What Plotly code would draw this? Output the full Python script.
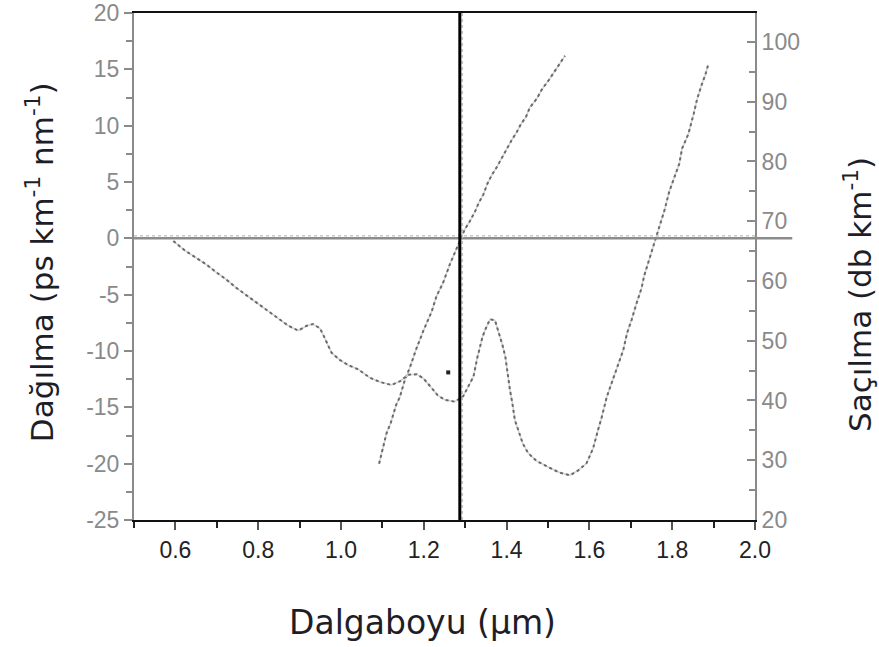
import plotly.graph_objects as go

# Attenuation curve (right axis, dB/km)
att_wavelength = [0.595, 0.623, 0.643, 0.674, 0.698, 0.722, 0.748, 0.774, 0.798, 0.827,
                  0.854, 0.873, 0.897, 0.917, 0.932, 0.949, 0.957, 0.967, 0.977, 0.997,
                  1.018, 1.042, 1.070, 1.094, 1.122, 1.142, 1.162, 1.183, 1.199, 1.219,
                  1.233, 1.251, 1.275, 1.295, 1.307, 1.320, 1.329, 1.336, 1.342, 1.350,
                  1.360, 1.372, 1.377, 1.384, 1.390, 1.397, 1.403, 1.408, 1.414, 1.420,
                  1.428, 1.439, 1.452, 1.472, 1.505, 1.529, 1.553, 1.573, 1.593, 1.609,
                  1.621, 1.629, 1.642, 1.654, 1.670, 1.682, 1.691, 1.702, 1.714, 1.726,
                  1.732, 1.742, 1.750, 1.762, 1.773, 1.782, 1.793, 1.807, 1.817, 1.824,
                  1.839, 1.852, 1.860, 1.871, 1.880, 1.887]
attenuation = [66.7, 65.1, 64.2, 62.8, 61.5, 60.3, 58.8, 57.5, 56.3, 54.9,
               53.6, 52.5, 51.7, 52.5, 52.8, 52.1, 51.0, 49.5, 48.0, 46.8,
               45.9, 45.2, 43.8, 43.1, 42.6, 43.2, 44.3, 44.4, 43.7, 42.1,
               40.9, 40.1, 39.8, 40.7, 42.3, 44.0, 47.1, 48.9, 50.7, 52.1,
               53.6, 53.4, 52.3, 50.8, 49.3, 47.3, 44.2, 41.8, 39.5, 36.7,
               35.1, 32.8, 31.2, 29.9, 28.7, 27.9, 27.5, 28.3, 29.5, 32.0,
               35.1, 37.0, 40.6, 42.9, 45.9, 48.5, 51.3, 53.5, 56.3, 58.8,
               60.8, 63.0, 64.9, 67.3, 69.9, 72.0, 75.0, 77.5, 79.6, 82.2,
               84.6, 88.0, 90.4, 92.8, 94.5, 96.2]

# Dispersion curve (left axis, ps km-1 nm-1)
disp_wavelength = [1.092, 1.104, 1.110, 1.120, 1.125, 1.133, 1.142, 1.149, 1.154, 1.167,
                   1.181, 1.199, 1.219, 1.231, 1.246, 1.263, 1.275, 1.291, 1.299, 1.311,
                   1.324, 1.332, 1.344, 1.353, 1.364, 1.376, 1.388, 1.400, 1.412, 1.424,
                   1.434, 1.447, 1.456, 1.473, 1.485, 1.503, 1.517, 1.533, 1.541]
dispersion = [-20.0, -18.2, -17.3, -16.4, -15.7, -14.8, -14.1, -13.1, -12.6, -11.4,
              -9.9, -8.2, -6.5, -5.1, -4.0, -2.3, -1.3, 0.1, 0.8, 1.5,
              2.4, 3.1, 3.9, 4.8, 5.6, 6.3, 7.1, 8.0, 8.7, 9.4,
              10.1, 10.8, 11.6, 12.4, 13.2, 14.1, 14.9, 15.8, 16.2]

stray_x = [1.259]
stray_y = [-11.9]

zero_dispersion_wavelength = 1.287

x_ticks = [0.6, 0.8, 1.0, 1.2, 1.4, 1.6, 1.8, 2.0]
x_ticktext = ["0.6", "0.8", "1.0", "1.2", "1.4", "1.6", "1.8", "2.0"]
left_ticks = [-25, -20, -15, -10, -5, 0, 5, 10, 15, 20]
left_ticktext = ["-25", "-20", "-15", "-10", "-5", "0", "5", "10", "15", "20"]
right_ticks = [20, 30, 40, 50, 60, 70, 80, 90, 100]
right_ticktext = ["20", "30", "40", "50", "60", "70", "80", "90", "100"]

fig = go.Figure()

# faint underlying lines
fig.add_trace(go.Scatter(x=att_wavelength, y=attenuation, yaxis="y2", mode="lines",
                         line=dict(color="#d4d4d4", width=1.5), hoverinfo="skip", showlegend=False))
fig.add_trace(go.Scatter(x=disp_wavelength, y=dispersion, yaxis="y", mode="lines",
                         line=dict(color="#d4d4d4", width=1.5), hoverinfo="skip", showlegend=False))
# dotted lines
fig.add_trace(go.Scatter(x=att_wavelength, y=attenuation, yaxis="y2", mode="lines",
                         line=dict(color="#6a6a6a", width=2, dash="dot"), showlegend=False))
fig.add_trace(go.Scatter(x=disp_wavelength, y=dispersion, yaxis="y", mode="lines",
                         line=dict(color="#6a6a6a", width=2, dash="dot"), showlegend=False))
fig.add_trace(go.Scatter(x=stray_x, y=stray_y, yaxis="y", mode="markers",
                         marker=dict(symbol="square", size=4, color="#222"), showlegend=False))

tick_font = dict(family="Liberation Sans, Arial, sans-serif", size=23, color="#8a8a8a")
title_font = dict(family="DejaVu Sans, sans-serif", size=31, color="#1e1e28")

fig.update_layout(
    width=879, height=647,
    margin=dict(l=134, r=124, t=13, b=127, autoexpand=False),
    paper_bgcolor="white", plot_bgcolor="white",
    showlegend=False,
    xaxis=dict(range=[0.5, 2.0], tickvals=x_ticks, ticktext=x_ticktext, automargin=False,
               ticks="outside", ticklen=8, tickwidth=1.5, tickcolor="#555",
               minor=dict(ticks="outside", dtick=0.1, tick0=0.5, ticklen=6, tickcolor="#222", tickwidth=1.5),
               showline=True, linecolor="#111", linewidth=2, mirror=True,
               showgrid=False, zeroline=False,
               tickfont=dict(family="Liberation Sans, Arial, sans-serif", size=23, color="#222")),
    yaxis=dict(range=[-25, 20], tickvals=left_ticks, ticktext=left_ticktext, automargin=False,
               ticks="outside", ticklen=8, tickwidth=1.5, tickcolor="#8a8a8a",
               minor=dict(ticks="outside", dtick=2.5, tick0=0, ticklen=6, tickcolor="#8a8a8a", tickwidth=1.5),
               showline=True, linecolor="#8a8a8a", linewidth=2,
               showgrid=False, zeroline=False, tickfont=tick_font),
    yaxis2=dict(range=[20, 104.85], tickvals=right_ticks, ticktext=right_ticktext,
                overlaying="y", side="right", automargin=False,
                ticks="inside", ticklen=8, tickwidth=1.5, tickcolor="#8a8a8a",
                minor=dict(ticks="inside", dtick=5, tick0=20, ticklen=6, tickcolor="#8a8a8a", tickwidth=1.5),
                showline=True, linecolor="#8a8a8a", linewidth=2,
                showgrid=False, zeroline=False, tickfont=tick_font),
    shapes=[
        dict(type="line", xref="paper", yref="y", x0=0, x1=1.06, y0=0, y1=0,
             line=dict(color="#8c8c8c", width=2.5)),
        dict(type="line", xref="paper", yref="y", x0=0, x1=1, y0=0.22, y1=0.22,
             line=dict(color="#c8c8c8", width=1.5, dash="dot")),
        dict(type="line", xref="x", yref="paper", x0=zero_dispersion_wavelength + 0.006,
             x1=zero_dispersion_wavelength + 0.006, y0=0, y1=1,
             line=dict(color="#c0c0c0", width=1.5, dash="dot")),
        dict(type="line", xref="x", yref="paper", x0=zero_dispersion_wavelength,
             x1=zero_dispersion_wavelength, y0=0, y1=1,
             line=dict(color="#000", width=3)),
    ],
    annotations=[
        dict(text="Dalgaboyu (µm)", xref="paper", yref="paper", x=0.465, y=-0.203,
             xanchor="center", yanchor="middle", showarrow=False,
             font=dict(family="DejaVu Sans, sans-serif", size=33, color="#1e1e28")),
        dict(text="Dağılma (ps km<sup>-1</sup> nm<sup>-1</sup>)", xref="paper", yref="paper",
             x=-0.151, y=0.509, xanchor="center", yanchor="middle", textangle=-90,
             showarrow=False, font=title_font),
        dict(text="Saçılma (db km<sup>-1</sup>)", xref="paper", yref="paper",
             x=1.166, y=0.444, xanchor="center", yanchor="middle", textangle=-90,
             showarrow=False, font=title_font),
    ],
)

fig.write_html("out.html", config={"displayModeBar": False},
               post_script="document.body.style.margin='0';document.body.style.overflow='hidden';")
